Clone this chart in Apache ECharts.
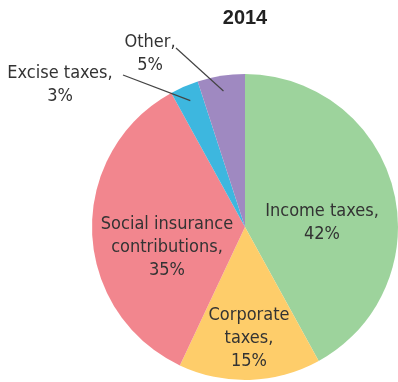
<!DOCTYPE html>
<html>
<head>
<meta charset="utf-8">
<script src="https://cdn.jsdelivr.net/npm/echarts@6/dist/echarts.min.js"></script>
<style>
  html, body { margin: 0; padding: 0; background: #fff; }
  #chart { width: 398px; height: 382px; }
</style>
</head>
<body>
<div id="chart"></div>
<script>
// Federal revenue shares, 2014
const chartTitle = '2014';
const categories = ['Income taxes', 'Corporate\ntaxes', 'Social insurance\ncontributions', 'Excise taxes', 'Other'];
const shares = [42, 15, 35, 3, 5];
const sliceColors = ['#9dd39c', '#fecd6a', '#f2868e', '#3db7df', '#9f89c1'];

// geometry of the pie
const CX = 245, CY = 227, R = 153;
const FONT = '"Liberation Sans Narrow", "Arial Narrow", "DejaVu Sans Condensed", sans-serif';

// label placement per slice: centre of the text block
const labelPos = [[322, 223], [249, 338], [167, 247], [60, 85], [150, 54]];
// small slices get a leader line: where it meets the text
const leaderEnd = { 3: [123, 75], 4: [176, 48] };

const total = shares.reduce((a, b) => a + b, 0);
function midAngle(i) {
  let before = 0;
  for (let k = 0; k < i; k++) before += shares[k];
  return (before + shares[i] / 2) / total * Math.PI * 2; // clockwise from top
}

// leader lines run from inside the slice out to its label
const leaders = Object.keys(leaderEnd).map(k => {
  const i = +k, a = midAngle(i), r = R * 0.9;
  return {
    type: 'polyline',
    silent: true,
    z: 10,
    shape: { points: [[CX + r * Math.sin(a), CY - r * Math.cos(a)], leaderEnd[i]] },
    style: { stroke: '#444', lineWidth: 1.2, fill: null }
  };
});

// title centred over the pie
leaders.push({
  type: 'text',
  silent: true,
  z: 10,
  x: CX,
  y: 18,
  style: {
    text: chartTitle,
    align: 'center',
    verticalAlign: 'middle',
    fontFamily: '"Liberation Sans", Arial, sans-serif',
    fontWeight: 'bold',
    fontSize: 20,
    fill: '#222'
  }
});

const chart = echarts.init(document.getElementById('chart'), null, { renderer: 'canvas' });
chart.setOption({
  animation: false,
  graphic: leaders,
  series: [{
    type: 'pie',
    center: [CX, CY],
    radius: [0, R],
    startAngle: 90,
    clockwise: true,
    silent: true,
    itemStyle: { borderWidth: 0 },
    data: categories.map((name, i) => ({
      name, value: shares[i],
      itemStyle: { color: sliceColors[i] }
    })),
    label: {
      show: true,
      position: 'inside',
      formatter: p => p.name + ',\n' + p.value + '%',
      fontFamily: FONT,
      fontSize: 18,
      lineHeight: 23,
      color: '#333',
      align: 'center',
      overflow: 'none'
    },
    labelLine: { show: false },
    labelLayout: function (params) {
      const i = params.dataIndex;
      return {
        x: labelPos[i][0],
        y: labelPos[i][1],
        align: 'center',
        verticalAlign: 'middle'
      };
    }
  }]
});
</script>
</body>
</html>
